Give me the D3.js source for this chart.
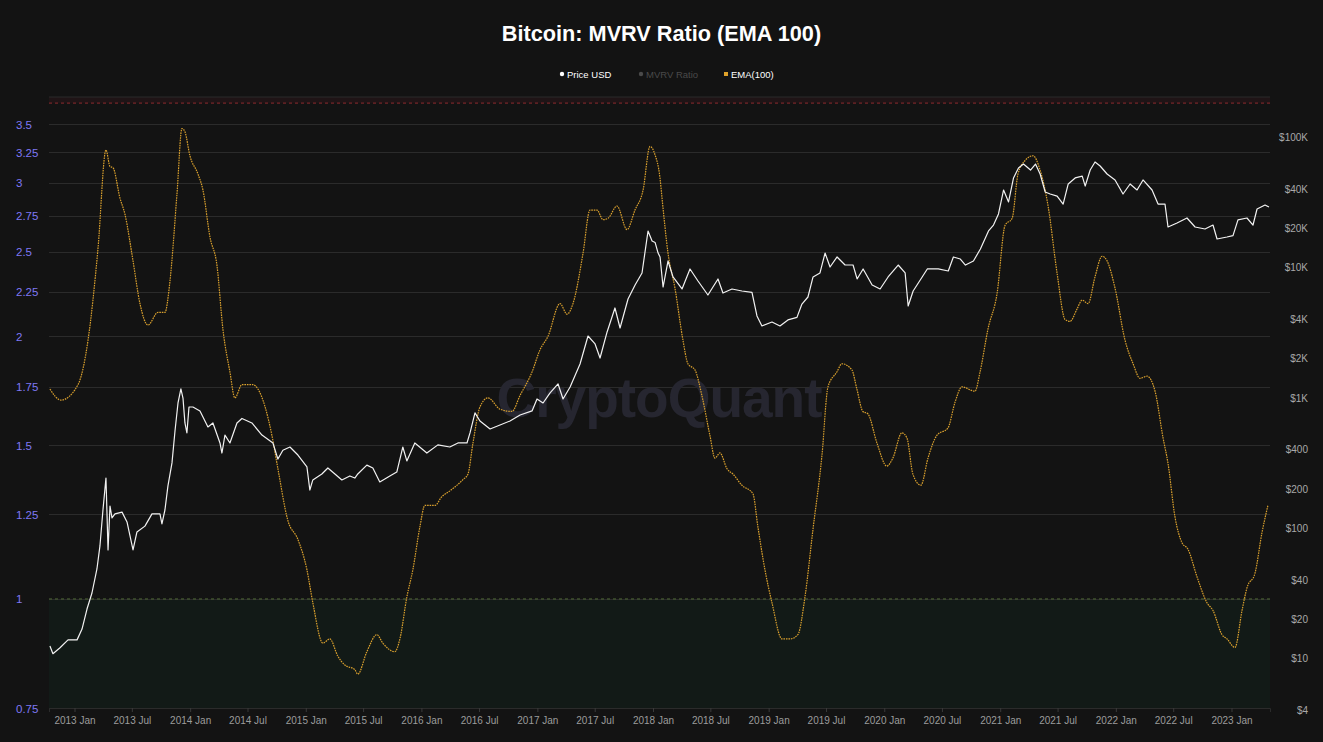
<!DOCTYPE html>
<html>
<head>
<meta charset="utf-8">
<script src="https://cdn.jsdelivr.net/npm/d3@7"></script>
<style>
  html, body { margin: 0; padding: 0; background: #131313; }
  svg { display: block; }
  text { font-family: "Liberation Sans", Arial, Helvetica, sans-serif; }
</style>
</head>
<body>
<svg id="chart" width="1323" height="742"></svg>
<script>
// ---------------- DATA ----------------
const title = "Bitcoin: MVRV Ratio (EMA 100)";
const legendItems = ["Price USD", "MVRV Ratio", "EMA(100)"];

// EMA(100) of MVRV ratio — dates as decimal years
const emaDates = [2012.788,2012.883,2013.030,2013.117,2013.203,2013.272,2013.307,2013.333,2013.393,2013.436,
  2013.506,2013.566,2013.635,2013.722,2013.782,2013.825,2013.886,2013.929,2013.955,2013.998,
  2014.067,2014.111,2014.171,2014.232,2014.283,2014.344,2014.387,2014.448,2014.543,2014.586,
  2014.707,2014.759,2014.845,2014.932,2015.010,2015.061,2015.148,2015.208,2015.277,2015.338,
  2015.424,2015.450,2015.528,2015.615,2015.666,2015.770,2015.814,2015.874,2015.926,2015.987,
  2016.030,2016.116,2016.177,2016.246,2016.358,2016.401,2016.445,2016.505,2016.574,2016.678,
  2016.781,2016.850,2016.954,2017.023,2017.092,2017.196,2017.257,2017.308,2017.395,2017.455,
  2017.516,2017.568,2017.611,2017.689,2017.775,2017.844,2017.914,2017.974,2018.017,2018.060,
  2018.078,2018.130,2018.190,2018.259,2018.302,2018.363,2018.423,2018.492,2018.536,2018.579,
  2018.640,2018.692,2018.769,2018.864,2018.907,2018.968,2019.029,2019.115,2019.184,2019.253,
  2019.314,2019.383,2019.461,2019.513,2019.590,2019.634,2019.720,2019.763,2019.815,2019.858,
  2019.936,2020.022,2020.074,2020.152,2020.195,2020.247,2020.316,2020.377,2020.454,2020.549,
  2020.610,2020.670,2020.782,2020.826,2020.895,2020.973,2021.042,2021.103,2021.154,2021.215,
  2021.284,2021.345,2021.414,2021.492,2021.561,2021.604,2021.665,2021.708,2021.760,2021.820,
  2021.881,2021.924,2021.993,2022.079,2022.149,2022.209,2022.270,2022.339,2022.408,2022.451,
  2022.512,2022.572,2022.624,2022.702,2022.788,2022.840,2022.918,2022.961,2023.030,2023.091,
  2023.134,2023.203,2023.263,2023.315];
const emaValues = [1.74,1.69,1.76,1.98,2.52,3.27,3.13,3.12,2.88,2.76,
  2.44,2.18,2.06,2.13,2.13,2.31,2.91,3.46,3.43,3.22,
  3.07,2.94,2.60,2.41,2.04,1.82,1.70,1.76,1.76,1.74,
  1.54,1.41,1.23,1.17,1.08,0.99,0.89,0.90,0.86,0.84,
  0.83,0.82,0.87,0.91,0.89,0.87,0.90,1.005,1.08,1.21,
  1.28,1.28,1.31,1.33,1.37,1.39,1.51,1.66,1.70,1.65,
  1.64,1.71,1.82,1.93,2.00,2.18,2.12,2.18,2.49,2.79,
  2.79,2.72,2.73,2.82,2.65,2.79,2.94,3.30,3.23,3.04,
  2.88,2.49,2.27,1.98,1.86,1.83,1.71,1.54,1.45,1.47,
  1.41,1.39,1.35,1.32,1.21,1.08,0.99,0.90,0.90,0.91,
  1.005,1.20,1.46,1.75,1.82,1.86,1.83,1.74,1.64,1.63,
  1.51,1.42,1.45,1.55,1.53,1.39,1.35,1.45,1.54,1.57,
  1.68,1.75,1.73,1.82,2.04,2.24,2.68,2.73,3.07,3.18,
  3.22,3.10,2.82,2.36,2.09,2.08,2.15,2.20,2.18,2.34,
  2.47,2.44,2.27,1.98,1.86,1.79,1.80,1.73,1.53,1.43,
  1.24,1.16,1.14,1.06,0.99,0.97,0.91,0.90,0.88,0.97,
  1.03,1.07,1.19,1.28];

// Bitcoin price in USD — dates as decimal years
const priceDates = [2012.788,2012.814,2012.875,2012.944,2013.022,2013.065,2013.108,2013.151,2013.194,2013.220,
  2013.246,2013.272,2013.290,2013.307,2013.324,2013.350,2013.411,2013.454,2013.506,2013.540,
  2013.609,2013.670,2013.739,2013.756,2013.782,2013.808,2013.843,2013.869,2013.895,2013.920,
  2013.938,2013.955,2013.972,2013.990,2014.024,2014.085,2014.154,2014.197,2014.258,2014.275,
  2014.301,2014.344,2014.405,2014.448,2014.534,2014.621,2014.716,2014.759,2014.802,2014.863,
  2014.932,2015.010,2015.035,2015.061,2015.139,2015.191,2015.252,2015.312,2015.381,2015.424,
  2015.450,2015.528,2015.580,2015.640,2015.727,2015.787,2015.839,2015.874,2015.943,2016.047,
  2016.142,2016.245,2016.315,2016.393,2016.419,2016.462,2016.505,2016.592,2016.678,2016.764,
  2016.851,2016.954,2016.997,2017.049,2017.110,2017.179,2017.222,2017.283,2017.369,2017.438,
  2017.499,2017.542,2017.603,2017.671,2017.715,2017.784,2017.845,2017.905,2017.957,2017.992,
  2018.018,2018.044,2018.061,2018.087,2018.130,2018.173,2018.251,2018.320,2018.389,2018.475,
  2018.562,2018.605,2018.683,2018.769,2018.856,2018.899,2018.942,2019.029,2019.098,2019.167,
  2019.245,2019.288,2019.340,2019.384,2019.444,2019.488,2019.531,2019.592,2019.661,2019.730,
  2019.765,2019.817,2019.895,2019.964,2020.033,2020.120,2020.180,2020.206,2020.249,2020.327,
  2020.371,2020.466,2020.552,2020.596,2020.656,2020.700,2020.769,2020.829,2020.899,2020.942,
  2020.985,2021.029,2021.072,2021.115,2021.158,2021.201,2021.262,2021.305,2021.345,2021.389,
  2021.432,2021.492,2021.544,2021.588,2021.648,2021.709,2021.735,2021.778,2021.820,2021.864,
  2021.924,2021.993,2022.062,2022.123,2022.183,2022.235,2022.313,2022.365,2022.425,2022.451,
  2022.529,2022.615,2022.685,2022.771,2022.840,2022.875,2022.961,2023.013,2023.056,2023.134,
  2023.186,2023.221,2023.290,2023.324];
const priceValues = [12.4,10.8,12.0,13.8,13.8,16.7,23.8,31.6,48.3,72.6,
  137,241,67.6,147,119,128,132,111,67.6,92.9,
  103,128,128,107,137,210,315,553,908,1164,
  991,638,535,846,846,789,594,638,448,375,
  515,448,638,691,638,515,448,337,394,417,
  362,293,195,233,259,288,259,233,250,241,
  259,303,288,225,250,268,417,326,448,375,
  433,417,448,448,535,762,661,574,615,661,
  734,789,975,908,1084,1271,975,1205,1808,2966,
  2577,2010,3186,4867,3418,5704,7309,9037,18980,15900,
  15500,12850,11990,7050,11170,8420,6810,9700,7840,6120,
  8130,6340,6810,6570,6420,4230,3540,3800,3540,3940,
  4120,5220,5910,8420,9040,12850,10040,11990,10400,10400,
  8130,9700,7310,6810,8420,10400,9040,5040,6570,8420,
  9700,9700,9360,11990,11560,10400,11170,13800,18980,21090,
  25660,39170,31680,48450,57800,61980,55730,61980,51970,37790,
  36480,35130,30540,43560,48450,50100,41990,55730,64230,59840,
  51970,46780,36480,43560,39170,46780,39170,30540,30540,20370,
  21870,23880,20370,19650,21090,16480,17060,17470,23070,23880,
  21090,27980,30040,29000];

// Axis ticks
const leftTicks = [0.75, 1, 1.25, 1.5, 1.75, 2, 2.25, 2.5, 2.75, 3, 3.25, 3.5];
const rightTicks = [4, 10, 20, 40, 100, 200, 400, 1000, 2000, 4000, 10000, 20000, 40000, 100000];
const rightTickLabels = ["$4","$10","$20","$40","$100","$200","$400","$1K","$2K","$4K","$10K","$20K","$40K","$100K"];
const xTickYears = [2013,2014,2015,2016,2017,2018,2019,2020,2021,2022,2023];
const xDomainYears = [2012.78, 2023.333];
const mvrvDomain = [0.75, 3.76];
const priceDomain = [4.14, 202600];
const greenLevel = 1;
const redLevel = 3.7;

// ---------------- HELPERS ----------------
function decToDate(t) {
  const y = Math.floor(t);
  const a = Date.UTC(y, 0, 1), b = Date.UTC(y + 1, 0, 1);
  return new Date(a + (t - y) * (b - a));
}

// ---------------- LAYOUT ----------------
const W = 1323, H = 742;
const pLeft = 49, pRight = 1270, pTop = 97, pBottom = 708;

const svg = d3.select("#chart");
svg.append("rect").attr("width", W).attr("height", H).attr("fill", "#131313");

const x = d3.scaleUtc().domain(xDomainYears.map(decToDate)).range([pLeft, pRight]);
const yL = d3.scaleLog().domain(mvrvDomain).range([pBottom, pTop]);
const yR = d3.scaleLog().domain(priceDomain).range([pBottom, pTop]);

// Title
svg.append("text").attr("x", W / 2).attr("y", 41).attr("text-anchor", "middle")
  .attr("fill", "#ffffff").attr("font-size", 21.7).attr("font-weight", "bold").text(title);

// Legend
const legendX = [560, 639, 724];
const legendColors = ["#ffffff", "#4a4a4a", "#e0a22a"];
const legendText = ["#ffffff", "#4a4a4a", "#ffffff"];
legendItems.forEach((name, i) => {
  const g = svg.append("g");
  if (i < 2) {
    g.append("circle").attr("cx", legendX[i] + 2).attr("cy", 74).attr("r", 2.2).attr("fill", legendColors[i]);
  } else {
    g.append("rect").attr("x", legendX[i]).attr("y", 72).attr("width", 4).attr("height", 4).attr("fill", legendColors[i]);
  }
  g.append("text").attr("x", legendX[i] + 7).attr("y", 77.5).attr("fill", legendText[i])
    .attr("font-size", 9.5).text(name);
});

// Zones
svg.append("rect").attr("x", pLeft).attr("width", pRight - pLeft)
  .attr("y", yL(greenLevel)).attr("height", pBottom - yL(greenLevel)).attr("fill", "#121a17");
svg.append("rect").attr("x", pLeft).attr("width", pRight - pLeft)
  .attr("y", pTop).attr("height", yL(redLevel) - pTop).attr("fill", "#1f1416");

// Gridlines
svg.append("line").attr("x1", pLeft).attr("x2", pRight).attr("y1", pTop).attr("y2", pTop)
  .attr("stroke", "#2a2a2a").attr("stroke-width", 1);
svg.append("g").selectAll("line").data(leftTicks).join("line")
  .attr("x1", pLeft).attr("x2", pRight)
  .attr("y1", d => Math.round(yL(d)) + 0.5).attr("y2", d => Math.round(yL(d)) + 0.5)
  .attr("stroke", "#2b2b2b").attr("stroke-width", 1);

// Watermark
svg.append("text").attr("x", 659).attr("y", 417).attr("text-anchor", "middle")
  .attr("fill", "#262630").attr("font-size", 55).attr("font-weight", "bold")
  .attr("letter-spacing", -1).text("CryptoQuant");

// Threshold dashed lines
svg.append("line").attr("x1", pLeft).attr("x2", pRight)
  .attr("y1", yL(redLevel)).attr("y2", yL(redLevel))
  .attr("stroke", "#8e2a2e").attr("stroke-width", 1).attr("stroke-dasharray", "3,3");
svg.append("line").attr("x1", pLeft).attr("x2", pRight)
  .attr("y1", yL(greenLevel)).attr("y2", yL(greenLevel))
  .attr("stroke", "#4f6a36").attr("stroke-width", 1).attr("stroke-dasharray", "3,3");

// Left axis (MVRV, log)
const leftAxis = d3.axisLeft(yL).tickValues(leftTicks).tickSize(0).tickFormat(d => String(d));
const gL = svg.append("g").attr("transform", "translate(16,0)").call(leftAxis);
gL.select(".domain").remove();
gL.selectAll("text").attr("x", 0).attr("text-anchor", "start").attr("dy", "0.35em")
  .attr("fill", "#7f78f4").attr("font-size", 11.5)
  .style("font-family", "'Liberation Sans', Arial, sans-serif");

// Right axis (Price, log)
const rightAxis = d3.axisRight(yR).tickValues(rightTicks).tickSize(0)
  .tickFormat((d, i) => rightTickLabels[i]);
const gR = svg.append("g").attr("transform", "translate(1308,0)").call(rightAxis);
gR.select(".domain").remove();
gR.selectAll("text").attr("x", 0).attr("text-anchor", "end").attr("dy", "0.35em")
  .attr("fill", "#a8a8a8").attr("font-size", 10)
  .style("font-family", "'Liberation Sans', Arial, sans-serif");

// X axis
const xTicks = [];
xTickYears.forEach(y => { xTicks.push(new Date(Date.UTC(y, 0, 1))); if (y < 2023) xTicks.push(new Date(Date.UTC(y, 6, 1))); });
const xAxis = d3.axisBottom(x).tickValues(xTicks).tickSize(4).tickPadding(5)
  .tickFormat(d => d.getUTCFullYear() + (d.getUTCMonth() === 0 ? " Jan" : " Jul"));
const gX = svg.append("g").attr("transform", `translate(0,${pBottom})`).call(xAxis);
gX.select(".domain").attr("stroke", "#2b2b2b");
gX.selectAll(".tick line").attr("stroke", "#3a3a3a");
gX.selectAll("text").attr("fill", "#9c9c9c").attr("font-size", 10)
  .style("font-family", "'Liberation Sans', Arial, sans-serif");

// Series
const emaData = emaDates.map((t, i) => ({ d: decToDate(t), v: emaValues[i] }));
const priceData = priceDates.map((t, i) => ({ d: decToDate(t), v: priceValues[i] }));

svg.append("clipPath").attr("id", "plotclip").append("rect")
  .attr("x", pLeft).attr("y", pTop).attr("width", pRight - pLeft).attr("height", pBottom - pTop);

const plot = svg.append("g").attr("clip-path", "url(#plotclip)");

plot.append("path").datum(emaData)
  .attr("fill", "none").attr("stroke", "#d9a02e").attr("stroke-width", 1.2)
  .attr("stroke-dasharray", "1.6,0.9")
  .attr("d", d3.line().x(d => x(d.d)).y(d => yL(d.v)).curve(d3.curveMonotoneX));

plot.append("path").datum(priceData)
  .attr("fill", "none").attr("stroke", "#f2f2f2").attr("stroke-width", 1.2)
  .attr("stroke-linejoin", "round")
  .attr("d", d3.line().x(d => x(d.d)).y(d => yR(d.v)));
</script>
</body>
</html>
